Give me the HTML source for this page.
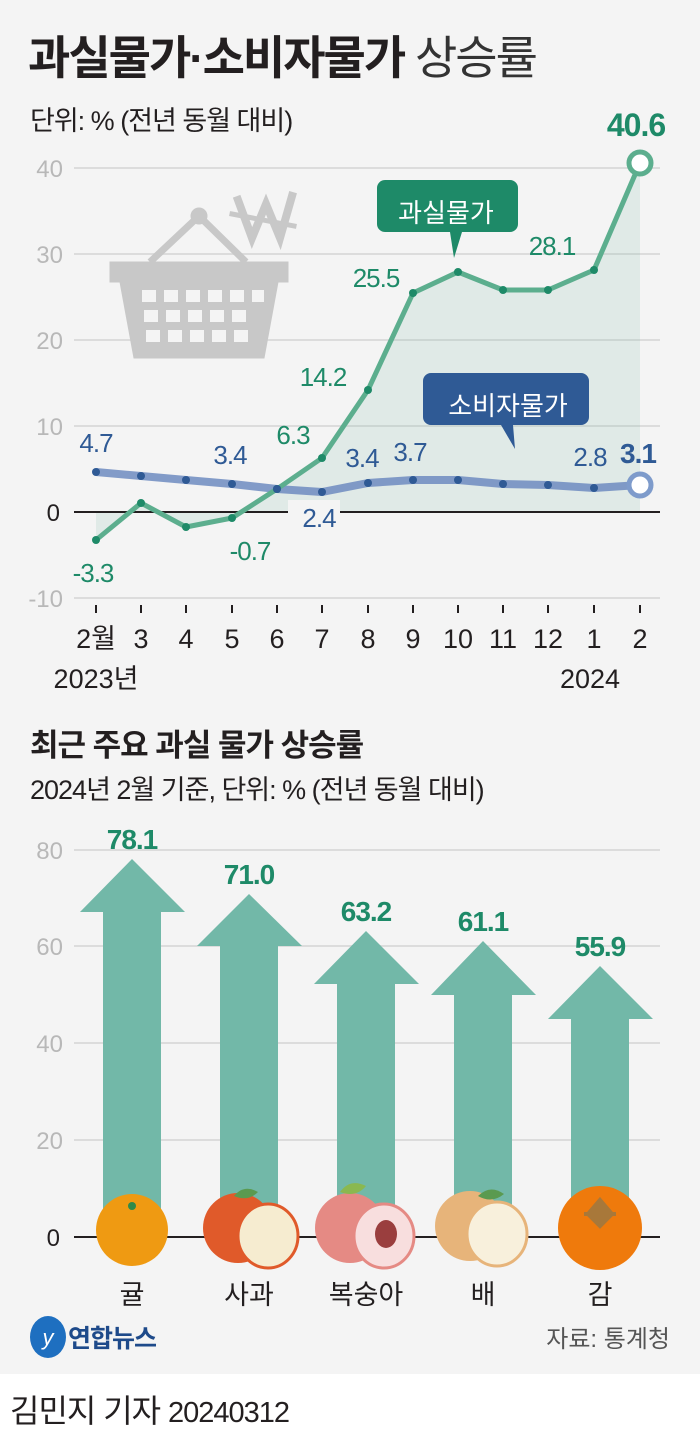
<!DOCTYPE html>
<html><head><meta charset="utf-8"><style>
html,body{margin:0;padding:0;background:#fff}
svg{display:block}
text{font-family:"Liberation Sans","Noto Sans CJK KR",sans-serif}
.n{font-family:"Liberation Sans Narrow","Liberation Sans","Noto Sans CJK KR",sans-serif}
</style></head><body>
<svg width="700" height="1438" viewBox="0 0 700 1438" xmlns="http://www.w3.org/2000/svg">
<rect x="0" y="0" width="700" height="1374" fill="#f4f4f4"/>
<rect x="0" y="1374" width="700" height="64" fill="#fff"/>
<text x="28" y="74" font-size="46" font-weight="bold" fill="#231f20" letter-spacing="-2">과실물가·소비자물가 <tspan font-weight="normal" fill="#333">상승률</tspan></text>
<text x="30" y="130" font-size="27" fill="#231f20" class="n" letter-spacing="-1">단위: % (전년 동월 대비)</text>
<g stroke="#dcdcdc" stroke-width="2">
<line x1="74" y1="168" x2="660" y2="168"/><line x1="74" y1="254" x2="660" y2="254"/>
<line x1="74" y1="340" x2="660" y2="340"/><line x1="74" y1="426" x2="660" y2="426"/>
<line x1="74" y1="598" x2="660" y2="598"/>
</g>
<g font-size="24" fill="#b8b8b8" text-anchor="end" class="n">
<text x="63" y="177">40</text><text x="63" y="263">30</text><text x="63" y="349">20</text><text x="63" y="435">10</text><text x="63" y="607">-10</text>
</g>
<text x="60" y="521" font-size="24" fill="#231f20" text-anchor="end" class="n">0</text>
<g fill="#c8c8c8" stroke="#c8c8c8">
<circle cx="199" cy="216" r="8"/>
<polyline points="150,262 199,216 246,262" fill="none" stroke-width="7"/>
<rect x="110" y="262" width="178" height="20"/>
<path d="M120 282 L278 282 L264 358 L134 358 Z"/>
</g>
<g fill="#f4f4f4">
<rect x="142" y="290" width="14" height="12"/><rect x="164" y="290" width="14" height="12"/><rect x="186" y="290" width="14" height="12"/><rect x="208" y="290" width="14" height="12"/><rect x="230" y="290" width="14" height="12"/><rect x="252" y="290" width="12" height="12"/>
<rect x="144" y="310" width="14" height="12"/><rect x="166" y="310" width="14" height="12"/><rect x="188" y="310" width="14" height="12"/><rect x="210" y="310" width="14" height="12"/><rect x="232" y="310" width="14" height="12"/>
<rect x="146" y="330" width="14" height="12"/><rect x="168" y="330" width="14" height="12"/><rect x="190" y="330" width="14" height="12"/><rect x="212" y="330" width="14" height="12"/><rect x="234" y="330" width="14" height="12"/>
</g>
<g stroke="#c8c8c8" stroke-width="8" fill="none" stroke-linecap="square">
<polyline points="238,200 252,238 266,204 280,238 292,196"/>
<line x1="232" y1="214" x2="294" y2="226" stroke-width="5"/>
</g>
<polygon fill="#6fb8a0" fill-opacity="0.15" points="96,540 141,503 186,527 232,518 277,489 322,458 368,390 413,293 458,272 503,290 548,290 594,270 640,163 640,512 96,512"/>
<line x1="74" y1="512" x2="660" y2="512" stroke="#231f20" stroke-width="2"/>
<rect x="288" y="500" width="52" height="28" fill="#f4f4f4"/>
<polyline fill="none" stroke="#6d8bbf" stroke-width="8" stroke-linejoin="round" stroke-opacity="0.85" points="96,472 141,476 186,480 232,484 277,489 322,492 368,483 413,480 458,480 503,484 548,485 594,488 640,485"/>
<polyline fill="none" stroke="#5cae8e" stroke-width="5" stroke-linejoin="round" points="96,540 141,503 186,527 232,518 277,489 322,458 368,390 413,293 458,272 503,290 548,290 594,270 640,163"/>
<g fill="#1e8a68">
<circle cx="96" cy="540" r="4"/><circle cx="141" cy="503" r="4"/><circle cx="186" cy="527" r="4"/><circle cx="232" cy="518" r="4"/><circle cx="277" cy="489" r="4"/><circle cx="322" cy="458" r="4"/><circle cx="368" cy="390" r="4"/><circle cx="413" cy="293" r="4"/><circle cx="458" cy="272" r="4"/><circle cx="503" cy="290" r="4"/><circle cx="548" cy="290" r="4"/><circle cx="594" cy="270" r="4"/>
</g>
<g fill="#2f5a95">
<circle cx="96" cy="472" r="4"/><circle cx="141" cy="476" r="4"/><circle cx="186" cy="480" r="4"/><circle cx="232" cy="484" r="4"/><circle cx="277" cy="489" r="4"/><circle cx="322" cy="492" r="4"/><circle cx="368" cy="483" r="4"/><circle cx="413" cy="480" r="4"/><circle cx="458" cy="480" r="4"/><circle cx="503" cy="484" r="4"/><circle cx="548" cy="485" r="4"/><circle cx="594" cy="488" r="4"/>
</g>
<circle cx="640" cy="163" r="11" fill="#fff" stroke="#5cae8e" stroke-width="5"/>
<circle cx="640" cy="485" r="11" fill="#fff" stroke="#7e9bcb" stroke-width="5"/>
<path d="M385 180 h125 a8 8 0 0 1 8 8 v36 a8 8 0 0 1 -8 8 h-48 l-8 26 l-4 -26 h-65 a8 8 0 0 1 -8 -8 v-36 a8 8 0 0 1 8 -8z" fill="#1e8a68"/>
<text x="446" y="222" font-size="26" fill="#fff" text-anchor="middle" class="n">과실물가</text>
<path d="M431 373 h150 a8 8 0 0 1 8 8 v36 a8 8 0 0 1 -8 8 h-68 l2 24 l-14 -24 h-70 a8 8 0 0 1 -8 -8 v-36 a8 8 0 0 1 8 -8z" fill="#2f5a95"/>
<text x="508" y="415" font-size="26" fill="#fff" text-anchor="middle" class="n">소비자물가</text>
<g font-size="26" fill="#1e8a68" text-anchor="middle" letter-spacing="-1" class="n">
<text x="93" y="582">-3.3</text><text x="250" y="560">-0.7</text><text x="293" y="444">6.3</text><text x="323" y="386">14.2</text><text x="376" y="287">25.5</text><text x="552" y="255">28.1</text>
</g>
<text x="636" y="136" font-size="32" font-weight="bold" fill="#1e8a68" text-anchor="middle" letter-spacing="-1">40.6</text>
<g font-size="26" fill="#2f5a95" text-anchor="middle" letter-spacing="-1" class="n">
<text x="96" y="452">4.7</text><text x="230" y="464">3.4</text><text x="319" y="527">2.4</text><text x="362" y="467">3.4</text><text x="410" y="461">3.7</text><text x="590" y="466">2.8</text>
</g>
<text x="638" y="463" font-size="28" font-weight="bold" fill="#2f5a95" text-anchor="middle" letter-spacing="-1">3.1</text>
<g stroke="#231f20" stroke-width="2">
<line x1="96" y1="605" x2="96" y2="613"/><line x1="141" y1="605" x2="141" y2="613"/><line x1="186" y1="605" x2="186" y2="613"/><line x1="232" y1="605" x2="232" y2="613"/><line x1="277" y1="605" x2="277" y2="613"/><line x1="322" y1="605" x2="322" y2="613"/><line x1="368" y1="605" x2="368" y2="613"/><line x1="413" y1="605" x2="413" y2="613"/><line x1="458" y1="605" x2="458" y2="613"/><line x1="503" y1="605" x2="503" y2="613"/><line x1="548" y1="605" x2="548" y2="613"/><line x1="594" y1="605" x2="594" y2="613"/><line x1="640" y1="605" x2="640" y2="613"/>
</g>
<g font-size="27" fill="#231f20" text-anchor="middle" class="n">
<text x="96" y="648">2월</text><text x="141" y="648">3</text><text x="186" y="648">4</text><text x="232" y="648">5</text><text x="277" y="648">6</text><text x="322" y="648">7</text><text x="368" y="648">8</text><text x="413" y="648">9</text><text x="458" y="648">10</text><text x="503" y="648">11</text><text x="548" y="648">12</text><text x="594" y="648">1</text><text x="640" y="648">2</text>
<text x="96" y="688">2023년</text><text x="590" y="688">2024</text>
</g>
<text x="30" y="756" font-size="31" font-weight="bold" fill="#231f20" letter-spacing="-1">최근 주요 과실 물가 상승률</text>
<text x="30" y="799" font-size="27" fill="#231f20" class="n" letter-spacing="-1">2024년 2월 기준, 단위: % (전년 동월 대비)</text>
<g stroke="#dcdcdc" stroke-width="2">
<line x1="74" y1="850" x2="660" y2="850"/><line x1="74" y1="946" x2="660" y2="946"/><line x1="74" y1="1043" x2="660" y2="1043"/><line x1="74" y1="1140" x2="660" y2="1140"/>
</g>
<g font-size="24" fill="#b8b8b8" text-anchor="end" class="n">
<text x="63" y="859">80</text><text x="63" y="955">60</text><text x="63" y="1052">40</text><text x="63" y="1149">20</text>
</g>
<text x="60" y="1246" font-size="24" fill="#231f20" text-anchor="end" class="n">0</text>
<line x1="74" y1="1237" x2="660" y2="1237" stroke="#231f20" stroke-width="2"/>
<g fill="#72b8a8">
<polygon points="132,859 185,912 161,912 161,1230 103,1230 103,912 80,912"/>
<polygon points="249,894 302,946 278,946 278,1230 220,1230 220,946 197,946"/>
<polygon points="366,931 419,984 395,984 395,1230 337,1230 337,984 314,984"/>
<polygon points="483,941 536,995 512,995 512,1230 454,1230 454,995 431,995"/>
<polygon points="600,966 653,1019 629,1019 629,1230 571,1230 571,1019 548,1019"/>
</g>
<g font-size="28" font-weight="bold" fill="#1e8a68" text-anchor="middle" letter-spacing="-1">
<text x="132" y="849">78.1</text><text x="249" y="884">71.0</text><text x="366" y="921">63.2</text><text x="483" y="931">61.1</text><text x="600" y="956">55.9</text>
</g>
<circle cx="132" cy="1230" r="36" fill="#ef9a12"/><circle cx="132" cy="1206" r="4" fill="#2f8a4a"/>
<circle cx="238" cy="1228" r="35" fill="#e05a2a"/><path d="M234 1196 q10 -12 24 -4 q-10 10 -24 4z" fill="#5a9a50"/>
<ellipse cx="268" cy="1236" rx="30" ry="32" fill="#f6ecd0" stroke="#e05a2a" stroke-width="3"/>
<circle cx="350" cy="1228" r="35" fill="#e58a84"/><path d="M340 1192 q10 -14 26 -6 q-10 12 -26 6z" fill="#8ab850"/>
<ellipse cx="384" cy="1236" rx="30" ry="32" fill="#f8dede" stroke="#e58a84" stroke-width="3"/><ellipse cx="386" cy="1234" rx="11" ry="14" fill="#9a3e3e"/>
<circle cx="470" cy="1226" r="35" fill="#e7b47a"/><path d="M478 1196 q12 -12 26 -2 q-12 10 -26 2z" fill="#5a9a50"/>
<ellipse cx="497" cy="1234" rx="30" ry="32" fill="#f8f0dc" stroke="#e7b47a" stroke-width="3"/>
<circle cx="600" cy="1228" r="42" fill="#ef7a0c"/><path d="M600 1200 l12 14 l-12 12 l-12 -12z M584 1214 h32" fill="#a8783a" stroke="#a8783a" stroke-width="4"/>
<g font-size="27" fill="#231f20" text-anchor="middle" class="n">
<text x="132" y="1304">귤</text><text x="249" y="1304">사과</text><text x="366" y="1304">복숭아</text><text x="483" y="1304">배</text><text x="600" y="1304">감</text>
</g>
<ellipse cx="48" cy="1337" rx="18" ry="21" fill="#1e6fc0"/><text x="48" y="1345" font-size="22" font-style="italic" fill="#fff" text-anchor="middle">y</text>
<text x="68" y="1347" font-size="25" font-weight="bold" fill="#1e4a8a" letter-spacing="-1">연합뉴스</text>
<text x="670" y="1347" font-size="24" fill="#555" text-anchor="end" class="n">자료: 통계청</text>
<text x="10" y="1422" font-size="32" fill="#231f20" class="n" letter-spacing="-1">김민지 기자  <tspan font-size="29">20240312</tspan></text>
</svg>
</body></html>
